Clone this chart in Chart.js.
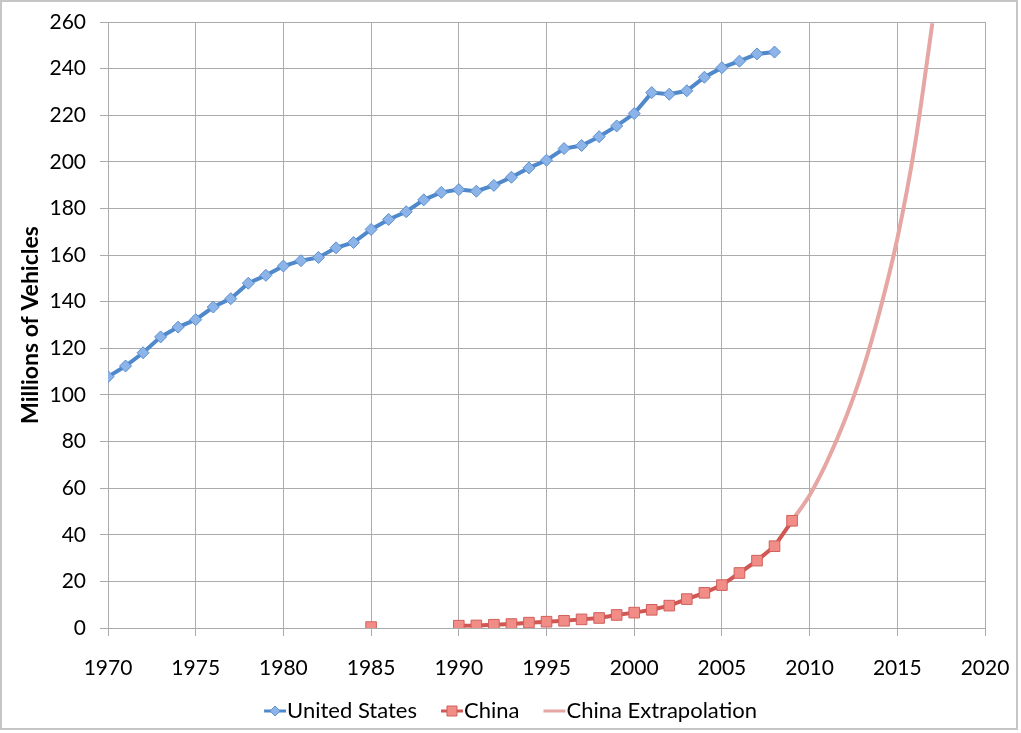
<!DOCTYPE html>
<html>
<head>
<meta charset="utf-8">
<title>Vehicles: United States vs China</title>
<script src="https://cdn.jsdelivr.net/npm/chart.js@4.4.1/dist/chart.umd.min.js"></script>
<style>
  html, body { margin: 0; padding: 0; background: #fff; }
  .wrap { width: 1021px; height: 733px; position: relative; }
</style>
</head>
<body>
<div class="wrap">
  <canvas id="vehicles" width="1021" height="733"></canvas>
</div>
<script>
// years and values (millions of vehicles)
const usYears = [1970, 1971, 1972, 1973, 1974, 1975, 1976, 1977, 1978, 1979,
  1980, 1981, 1982, 1983, 1984, 1985, 1986, 1987, 1988, 1989,
  1990, 1991, 1992, 1993, 1994, 1995, 1996, 1997, 1998, 1999,
  2000, 2001, 2002, 2003, 2004, 2005, 2006, 2007, 2008];
const usValues = [107.8, 112.4, 118.1, 124.9, 129.1, 132.3, 137.7, 141.3, 147.9, 151.3,
  155.3, 157.6, 159.0, 163.1, 165.4, 171.0, 175.3, 178.6, 183.7, 186.9,
  188.1, 187.4, 189.9, 193.4, 197.4, 200.7, 205.7, 207.0, 210.8, 215.4,
  220.7, 229.7, 229.0, 230.5, 236.3, 240.4, 243.2, 246.3, 247.1];

// no data for 1986-1989, so the 1985 point stands alone
const chinaYears = [1985, 1986, 1987, 1988, 1989,
  1990, 1991, 1992, 1993, 1994, 1995, 1996, 1997, 1998, 1999,
  2000, 2001, 2002, 2003, 2004, 2005, 2006, 2007, 2008, 2009];
const chinaValues = [0.4, null, null, null, null,
  1.0, 1.1, 1.4, 1.7, 2.3, 2.7, 3.1, 3.7, 4.3, 5.6,
  6.6, 7.8, 9.6, 12.4, 15.1, 18.4, 23.6, 28.9, 35.1, 46.0];

const extrapYears = [2009, 2010, 2011, 2012, 2013, 2014, 2015, 2016, 2017];
const extrapValues = [46.0, 57.0, 71.5, 89.0, 110.0, 136.0, 167.0, 207.0, 259.5];

const xTicks = { min: 1970, max: 2020, step: 5 };
const yTicks = { min: 0, max: 260, step: 20 };

const toPoints = (xs, ys) => xs.map((x, i) => ({ x: x, y: ys[i] }));

const GRID = '#ababab';
const FONT = 'Lato';

// legend drawn as line + marker, like the spreadsheet legend
const lineLegend = {
  id: 'lineLegend',
  beforeDraw(chart) {
    const ctx = chart.ctx;
    ctx.save();
    ctx.fillStyle = '#fff';
    ctx.fillRect(0, 0, chart.width, chart.height);
    ctx.restore();
  },
  afterDraw(chart) {
    const ctx = chart.ctx;
    ctx.save();
    ctx.font = '22px ' + FONT;
    const lineW = 22, gap = 24, y = 711;
    const items = chart.data.datasets.map(ds => ({ ds: ds, w: lineW + 1 + ctx.measureText(ds.label).width }));
    const total = items.reduce((s, it) => s + it.w, 0) + gap * (items.length - 1);
    let x = (chart.width - total) / 2;
    items.forEach(it => {
      const ds = it.ds;
      ctx.strokeStyle = ds.borderColor;
      ctx.lineWidth = 3;
      ctx.beginPath();
      ctx.moveTo(x, y);
      ctx.lineTo(x + lineW, y);
      ctx.stroke();
      const cx = x + lineW / 2;
      if (ds.pointRadius > 0) {
        ctx.fillStyle = ds.pointBackgroundColor;
        ctx.strokeStyle = ds.pointBorderColor;
        ctx.lineWidth = 1;
        ctx.beginPath();
        if (ds.pointStyle === 'rectRot') {
          const r = 5;
          ctx.moveTo(cx, y - r); ctx.lineTo(cx + r, y); ctx.lineTo(cx, y + r); ctx.lineTo(cx - r, y);
          ctx.closePath();
        } else {
          const s = 5;
          ctx.rect(cx - s, y - s, 2 * s, 2 * s);
        }
        ctx.fill();
        ctx.stroke();
      }
      ctx.fillStyle = '#000';
      ctx.textBaseline = 'middle';
      ctx.textAlign = 'left';
      ctx.fillText(ds.label, x + lineW + 1, y);
      x += it.w + gap;
    });
    // chart frame
    ctx.strokeStyle = '#c6c6c6';
    ctx.lineWidth = 2;
    ctx.strokeRect(1, 1, 1016, 728);
    ctx.restore();
  }
};

new Chart(document.getElementById('vehicles'), {
  type: 'line',
  data: {
    datasets: [
      {
        label: 'United States',
        data: toPoints(usYears, usValues),
        borderColor: '#5089cb',
        borderWidth: 4,
        pointStyle: 'rectRot',
        pointRadius: 6,
        pointBackgroundColor: '#8cb4e8',
        pointBorderColor: '#5b8fcf',
        pointBorderWidth: 1,
        order: 2
      },
      {
        label: 'China',
        data: toPoints(chinaYears, chinaValues),
        borderColor: '#d15753',
        borderWidth: 4,
        pointStyle: 'rect',
        pointRadius: 7.5,
        pointBackgroundColor: '#f28c87',
        pointBorderColor: '#d0605c',
        pointBorderWidth: 1,
        spanGaps: false,
        order: 1
      },
      {
        label: 'China Extrapolation',
        data: toPoints(extrapYears, extrapValues),
        borderColor: '#e6a6a4',
        borderWidth: 4,
        pointRadius: 0,
        cubicInterpolationMode: 'monotone',
        order: 3
      }
    ]
  },
  options: {
    responsive: false,
    animation: false,
    layout: { padding: { top: 22, right: 36, left: 0, bottom: 0 } },
    plugins: {
      legend: { display: false },
      tooltip: { enabled: false }
    },
    scales: {
      x: {
        type: 'linear',
        min: xTicks.min,
        max: xTicks.max,
        afterFit: scale => {
          scale.height = 105;
          scale.paddingLeft = 0;
          scale.paddingRight = 0;
        },
        grid: { color: GRID, tickColor: GRID, tickLength: 8, lineWidth: 1, drawTicks: true },
        border: { color: GRID },
        ticks: {
          stepSize: xTicks.step,
          color: '#000',
          padding: 20,
          maxRotation: 0,
          font: { family: FONT, size: 21 },
          callback: v => String(v)
        }
      },
      y: {
        min: yTicks.min,
        max: yTicks.max,
        afterFit: scale => {
          scale.width = 108;
          scale.paddingTop = 0;
          scale.paddingBottom = 0;
        },
        grid: { color: GRID, tickColor: GRID, tickLength: 8, lineWidth: 1, drawTicks: true },
        border: { color: GRID },
        ticks: {
          stepSize: yTicks.step,
          color: '#000',
          padding: 14,
          font: { family: FONT, size: 21 }
        },
        title: {
          display: true,
          text: 'Millions of Vehicles',
          color: '#000',
          padding: { top: 17, bottom: 0 },
          font: { family: FONT, size: 23, weight: 'bold' }
        }
      }
    }
  },
  plugins: [lineLegend]
});
</script>
</body>
</html>
